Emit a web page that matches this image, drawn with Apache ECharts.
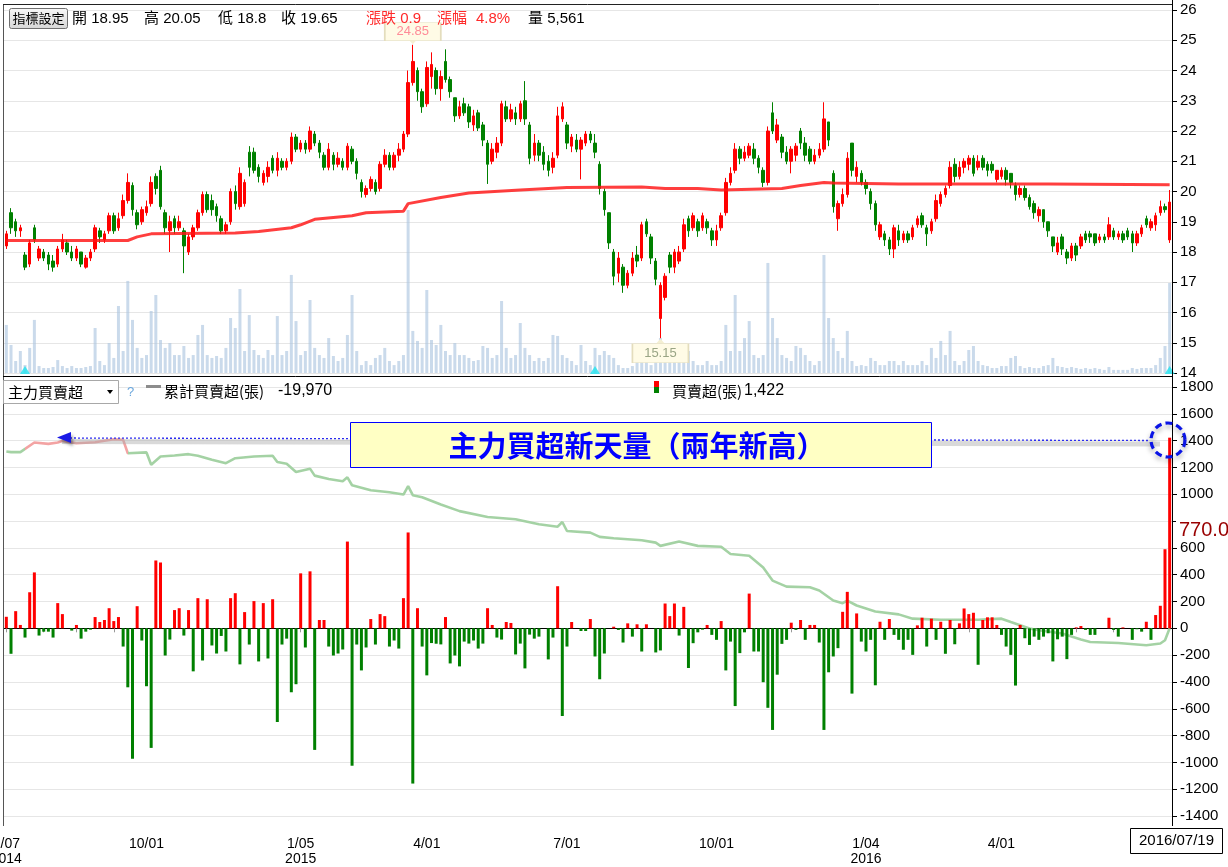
<!DOCTYPE html>
<html><head><meta charset="utf-8">
<script src="https://cdn.jsdelivr.net/npm/echarts@6/dist/echarts.min.js"></script>
<style>html,body{margin:0;padding:0;background:#fff;}#c{width:1228px;height:867px;}</style>
</head><body><div id="c"></div>
<script>
// ---------- data (each period = 2 trading days, 2014/07/07 - 2016/07/19) ----------
const openP = [
18.2,19.3,19.0,18.7,17.9,17.6,18.8,17.8,18.0,17.9,
17.7,17.6,18.1,18.3,18.0,17.8,18.0,17.5,17.8,18.1,
18.7,18.4,18.7,19.2,18.8,19.2,19.7,20.2,19.3,19.0,
19.3,19.6,20.5,20.7,19.3,18.7,19.1,18.8,18.7,18.0,
18.5,18.8,19.3,19.9,19.7,19.5,19.1,18.7,19.0,20.0,
19.5,19.6,21.3,21.3,20.8,20.3,20.5,21.1,20.7,21.0,
20.8,21.0,21.8,21.4,21.6,21.4,21.9,21.6,21.2,20.8,
21.2,20.9,21.0,20.8,21.4,21.0,20.3,19.9,20.1,20.3,
20.1,20.9,21.2,20.8,21.2,21.4,21.9,23.6,24.0,23.3,
22.9,23.8,24.0,23.4,24.3,23.7,23.1,22.5,22.9,22.8,
22.2,22.6,22.2,21.6,21.0,21.3,21.6,22.8,22.4,22.6,
22.4,23.0,22.2,21.2,21.6,21.3,21.0,20.8,21.2,22.4,
22.2,21.5,21.7,21.4,21.6,21.9,21.6,20.9,20.0,19.3,
18.0,17.3,17.5,16.9,17.3,17.9,17.8,19.0,18.5,17.7,
15.8,16.5,17.9,17.5,17.7,18.1,19.1,18.8,19.0,18.8,
19.0,18.7,18.4,18.8,19.3,20.3,20.7,21.4,21.1,21.2,
21.4,21.1,20.7,20.3,22.6,21.7,21.8,21.3,21.0,21.2,
22.0,21.6,21.4,21.0,21.2,21.4,22.3,20.6,19.1,19.6,
19.9,21.6,20.5,20.6,20.3,20.0,19.6,18.5,18.6,18.4,
18.1,18.7,18.4,18.6,18.5,18.9,19.2,18.8,18.7,19.1,
19.6,19.9,20.2,20.9,20.5,20.8,20.9,21.1,20.8,21.1,
20.9,20.9,20.4,20.5,20.7,20.6,20.2,19.9,20.1,19.8,
19.6,19.2,19.4,19.0,18.5,18.0,18.5,18.0,17.8,18.2,
18.2,18.6,18.6,18.6,18.4,18.5,18.5,18.7,18.5,18.6,
18.7,18.6,18.3,18.6,19.1,18.8,18.9,19.3,19.5,18.4];
const closeP = [
18.6,18.8,18.7,18.8,17.5,18.3,18.4,18.1,17.8,17.6,
17.5,18.1,18.4,18.0,17.8,18.1,17.6,17.8,18.0,18.8,
18.5,18.6,19.2,18.7,19.1,19.7,20.3,19.4,18.9,19.4,
19.5,20.3,20.1,19.5,18.8,19.0,18.8,19.0,18.2,18.5,
18.8,19.3,19.9,19.4,19.4,19.2,18.7,18.9,20.0,19.6,
20.6,20.3,20.8,20.7,20.5,20.6,20.8,20.7,21.1,20.8,
21.0,21.8,21.4,21.6,21.4,22.0,21.6,21.3,20.8,21.4,
20.9,21.1,20.8,21.5,21.0,20.6,20.0,20.1,20.4,20.0,
20.9,21.2,20.8,21.2,21.4,21.9,23.6,24.3,23.3,22.8,
24.1,24.2,23.4,23.8,23.7,23.3,22.5,22.8,22.6,22.3,
22.5,22.1,21.7,20.9,21.4,21.6,22.9,22.4,22.7,22.4,
22.9,22.4,21.1,21.6,21.2,20.9,20.7,21.1,22.5,22.8,
21.6,21.8,21.4,21.7,21.9,21.7,21.3,20.1,19.4,18.3,
17.2,17.8,16.9,17.3,17.8,17.7,18.9,18.6,17.8,17.1,
16.9,17.2,17.5,18.0,18.0,18.9,18.7,19.2,18.7,19.2,
18.8,18.4,18.7,19.2,20.3,20.6,21.4,21.1,21.3,21.5,
21.1,20.8,20.3,22.0,22.0,22.2,21.3,21.0,21.4,21.5,
21.6,21.2,21.0,21.2,21.4,22.4,21.7,19.5,19.6,19.9,
21.1,20.7,20.8,20.3,20.1,19.6,18.9,18.9,18.4,18.1,
18.8,18.4,18.6,18.4,18.8,19.1,18.9,18.6,19.0,19.7,
19.9,20.1,20.8,20.5,20.8,21.0,21.1,20.6,21.0,20.8,
20.7,20.7,20.7,20.7,20.4,20.3,19.9,20.1,19.8,19.5,
19.3,19.4,19.0,18.7,18.2,18.3,18.1,17.8,18.2,17.9,
18.5,18.4,18.5,18.3,18.5,18.4,18.9,18.5,18.6,18.4,
18.5,18.3,18.6,18.8,18.9,19.0,19.2,19.5,19.4,19.65];
const lowP = [
18.1,18.6,18.5,18.5,17.4,17.5,18.3,17.7,17.7,17.4,
17.35,17.5,18.0,17.9,17.7,17.7,17.5,17.45,17.7,18.0,
18.3,18.3,18.6,18.6,18.7,19.1,19.6,19.2,18.75,18.9,
19.2,19.5,19.9,19.4,18.6,18.0,18.6,18.7,17.3,17.9,
18.4,18.7,19.2,19.3,19.2,19.0,18.6,18.6,18.9,19.4,
19.4,19.5,20.5,20.6,20.3,20.2,20.3,20.6,20.5,20.7,
20.7,20.9,21.3,21.3,21.25,21.3,21.5,21.1,20.7,20.7,
20.7,20.8,20.7,20.7,20.9,20.4,19.8,19.8,20.0,19.9,
20.0,20.8,20.7,20.7,21.0,21.3,21.8,23.5,23.0,22.6,
22.8,23.4,23.2,23.0,23.6,23.1,22.3,22.4,22.5,22.1,
22.0,22.0,21.5,20.25,20.9,21.1,21.5,22.3,22.3,22.2,
22.3,22.2,20.9,21.0,21.0,20.7,20.5,20.6,21.1,22.3,
21.4,21.3,21.3,20.4,21.5,21.6,21.1,19.9,19.2,18.1,
16.9,17.0,16.65,16.8,17.2,17.5,17.7,18.5,17.6,16.9,
15.15,16.4,17.3,17.3,17.6,18.0,18.5,18.7,18.5,18.7,
18.6,18.2,18.2,18.7,19.2,20.2,20.6,20.9,21.0,21.1,
20.9,20.6,20.15,20.2,21.9,21.6,21.1,20.9,20.6,21.0,
21.4,21.0,20.9,20.9,21.1,21.3,21.5,19.3,18.7,19.5,
19.8,20.5,20.3,20.2,19.9,19.4,18.7,18.4,18.2,17.9,
17.8,18.2,18.3,18.3,18.4,18.8,18.8,18.2,18.6,19.0,
19.5,19.8,20.1,20.3,20.4,20.6,20.7,20.5,20.7,20.7,
20.5,20.6,20.3,20.4,20.2,20.1,19.7,19.8,19.7,19.4,
19.1,19.0,18.8,18.5,18.0,17.9,17.9,17.6,17.7,17.7,
18.1,18.3,18.3,18.2,18.3,18.3,18.4,18.4,18.4,18.3,
18.4,18.0,18.2,18.5,18.8,18.7,18.7,19.2,19.3,18.3];
const highP = [
18.7,19.45,19.1,18.9,18.0,18.4,18.9,18.2,18.1,18.0,
17.9,18.2,18.6,18.4,18.2,18.2,18.0,17.9,18.1,18.9,
18.8,18.7,19.3,19.3,19.3,19.9,20.6,20.3,19.4,19.5,
19.7,20.5,20.6,20.85,19.4,19.2,19.2,19.2,18.8,18.6,
18.9,19.4,20.0,20.0,19.9,19.6,19.2,19.0,20.1,20.2,
20.8,20.4,21.5,21.45,20.9,20.7,21.0,21.2,21.3,21.1,
21.1,21.95,21.9,21.7,21.7,22.15,22.0,21.7,21.3,21.6,
21.3,21.3,21.1,21.6,21.5,21.1,20.4,20.2,20.5,20.4,
21.0,21.4,21.3,21.3,21.6,22.0,24.0,24.85,24.1,23.4,
24.3,24.6,24.1,24.0,24.7,23.8,23.1,23.0,23.1,22.9,
22.7,22.7,22.3,21.7,21.6,21.8,23.0,23.0,22.9,22.8,
23.0,23.65,22.3,21.9,21.7,21.5,21.2,21.3,22.8,22.95,
22.3,21.9,21.9,21.8,22.0,22.0,21.9,21.0,20.1,19.3,
18.1,18.0,17.6,17.4,18.0,18.2,19.0,19.1,18.6,17.8,
17.0,17.3,18.0,18.1,18.2,19.1,19.2,19.3,19.1,19.3,
19.1,18.8,18.9,19.3,20.45,20.8,21.6,21.5,21.5,21.6,
21.6,21.2,20.8,22.15,22.95,22.4,21.9,21.5,21.5,21.6,
22.1,21.8,21.5,21.4,21.6,22.95,22.3,20.7,19.7,20.1,
21.3,21.6,21.0,20.7,20.4,20.1,19.7,19.0,18.7,18.5,
18.9,18.9,18.7,18.7,18.9,19.2,19.3,18.9,19.1,19.9,
20.0,20.2,21.0,21.1,21.0,21.1,21.2,21.2,21.2,21.2,
21.0,21.0,20.7,20.8,20.8,20.6,20.3,20.2,20.2,19.9,
19.7,19.5,19.4,19.0,18.5,18.5,18.6,18.1,18.3,18.3,
18.6,18.7,18.7,18.6,18.6,18.6,19.15,18.8,18.7,18.7,
18.8,18.7,18.7,18.9,19.2,19.1,19.3,19.7,19.6,20.05];
const volume = [
2970,1730,740,1360,490,1550,3280,430,310,310,
370,800,430,310,430,310,310,370,430,2780,
740,490,1850,930,4140,1360,5690,3280,1550,930,
1110,3830,4820,2040,1550,1850,1110,1110,1670,930,
1110,2350,2970,1110,930,1050,930,1550,3400,2780,
5190,1360,3580,1420,1110,930,1420,1110,3520,1110,
1360,6060,3210,1110,1360,4510,1550,1110,930,2160,
1050,740,930,2350,4820,1360,490,740,490,930,
1110,1550,740,490,740,1110,10070,2600,1980,1550,
5130,2040,1730,2970,1360,1110,1850,1110,1110,930,
740,800,1670,1550,930,1110,4450,1550,930,1110,
3090,1550,1110,740,930,740,930,2350,2290,1110,
930,740,490,1730,740,490,1550,1110,1360,1110,
930,490,310,310,430,740,930,740,490,930,
2160,1550,930,740,740,1110,1360,740,490,490,
740,490,490,740,2970,1360,4820,1360,2160,3210,
1110,930,1110,6800,3400,2160,1110,930,740,1670,
1550,1110,740,490,740,7290,3400,2160,1360,930,
2600,740,430,490,430,930,740,490,490,740,
740,490,740,490,490,490,740,490,1550,930,
1980,1110,2600,740,490,740,1420,1670,740,490,
430,310,310,430,430,930,1050,430,310,370,
310,310,430,490,930,430,370,310,370,310,
250,310,250,310,250,190,370,190,190,190,
190,310,250,310,310,310,490,930,1670,5561];
// long moving average: [period index, price]
const maLine = [[0,18.38],[26,18.38],[28,18.5],[31,18.6],[49,18.63],[54,18.68],[61,18.8],[63,18.9],[66,19.08],[74,19.2],[77,19.3],[85,19.35],[86,19.6],[93,19.8],[99,19.95],[110,20.05],[120,20.13],[136,20.15],[141,20.1],[148,20.1],[153,20.05],[166,20.1],[170,20.2],[175,20.3],[177,20.28],[191,20.25],[223,20.25],[249,20.22]];
// 主力買賣超 (張)
const netBuy = [
86,-190,128,25,-69,269,417,-54,-25,-25,
-69,188,106,0,-17,25,-77,-25,-10,84,
47,62,150,54,84,-136,-440,-973,165,-91,
-432,-892,506,491,-203,-84,136,150,-54,136,
-321,225,-240,217,-128,-188,-57,-173,225,262,
-269,121,-121,203,-247,188,-225,217,-699,-121,
-77,-477,-417,410,-143,425,-907,62,62,-136,
-203,-188,-158,647,-1025,-121,-314,-143,69,-121,
106,91,-136,-91,-151,225,715,-1158,150,-136,
-351,-110,-115,-120,84,-262,-203,-284,-99,-114,
-91,-151,-114,150,25,-69,-84,47,40,-195,
-114,-299,-47,-77,-62,0,-232,-69,314,-654,
-136,47,0,-20,-20,69,-210,-380,-188,0,
12,-12,-106,37,-62,30,-173,30,0,-180,
-165,185,91,185,-54,160,-296,-111,-30,-10,
25,-49,-86,54,-314,-99,-580,-185,-30,259,
-173,-173,-402,-593,-758,-346,-116,-86,42,-12,
62,-86,25,25,-106,-758,-328,-210,-148,123,
272,-487,111,-99,-173,-86,-425,49,-86,69,
-49,-86,-160,-86,-198,22,79,-136,72,-86,
49,-190,62,-119,37,148,106,116,-272,62,
82,82,25,-49,-136,-198,-427,25,-74,-124,
-62,-86,-62,-37,-247,-82,-62,-230,-49,7,
17,-12,-49,-49,0,0,79,-12,-62,7,
0,-86,-7,-25,49,-86,99,168,590,1422];
// 累計買賣超 (drawn on the panel scale): [period index, value]
const cumLine = [[0,1319],[1,1314],[3,1314],[6,1386],[9,1376],[11,1386],[12,1398],[15,1380],[19,1388],[23,1410],[25,1406],[26,1306],[30,1312],[31,1220],[33,1282],[36,1289],[39,1299],[41,1287],[44,1257],[47,1232],[49,1269],[53,1282],[57,1287],[58,1240],[60,1228],[62,1166],[65,1191],[66,1139],[69,1114],[72,1097],[73,1126],[74,1067],[78,1030],[82,1015],[85,998],[86,1060],[87,993],[89,978],[93,924],[97,874],[103,830],[109,813],[114,776],[118,758],[119,793],[120,726],[125,714],[127,682],[130,672],[136,657],[139,639],[140,615],[144,647],[148,615],[153,608],[155,554],[159,541],[162,454],[164,356],[167,311],[172,306],[174,282],[177,207],[179,187],[180,207],[182,170],[186,126],[191,104],[194,72],[200,64],[208,64],[213,72],[215,47],[219,-2],[221,-15],[226,-39],[230,-84],[232,-102],[238,-109],[244,-126],[247,-113],[248,-89],[249,0]];
const xLabelIdx  = [0, 30, 63, 90, 120, 152, 184, 213];
const xLabelText = ['7/07\n2014','10/01','1/05\n2015','4/01','7/01','10/01','1/04\n2016','4/01'];
const xTickIdx = [0,8,15,23,30,38,46,54,63,70,77,84,90,98,105,113,120,128,136,144,152,160,168,176,184,191,199,206,213,221,229,237,245];
const markerIdx = [4, 126, 249];
const headerItems = [['開 18.95',72,'#000'],['高 20.05',144,'#000'],['低 18.8',218,'#000'],['收 19.65',281,'#000'],['漲跌 0.9',366,'#ff2a2a'],['漲幅',437,'#ff2a2a'],['4.8%',476,'#ff2a2a'],['量 5,561',528,'#000']];
const cumLegend = ['累計買賣超(張)', '-19,970'];
const netLegend = ['買賣超(張)', '1,422'];
const lastDate = '2016/07/19';
const lastMark = '770.0';
const noteText = '主力買超新天量（兩年新高）';

// ---------- chart ----------
const FONT = '"Liberation Sans","Noto Sans CJK TC",sans-serif';
const CJK = '"Noto Sans CJK TC","Liberation Sans",sans-serif';
const cats = openP.map((_, i) => String(i));
const candle = openP.map((o, i) => [o, closeP[i], lowP[i], highP[i]]);
const labelMap = new Map(xLabelIdx.map((k, j) => [k, xLabelText[j]]));
const tickSet = new Set(xTickIdx);

function txt(x, y, text, opt) {
  return {type:'text', x:x, y:y, z:80, style:Object.assign({text:text, fill:'#000', fontSize:15, fontFamily:FONT, align:'left', verticalAlign:'middle'}, opt || {})};
}
function ln(x1, y1, x2, y2, stroke, lw, extra) {
  return {type:'line', z:55, shape:{x1:x1, y1:y1, x2:x2, y2:y2}, style:Object.assign({stroke:stroke, lineWidth:lw || 1}, extra || {})};
}

const hiddenX = (g) => ({type:'category', gridIndex:g, data:cats, boundaryGap:true,
  axisLine:{show:false}, axisTick:{show:false}, axisLabel:{show:false}, splitLine:{show:false}});

const graphics = [
  ln(3.5, 4, 3.5, 826, '#555', 1),
  ln(3, 4.5, 1172, 4.5, '#222', 1),
  ln(3, 376.5, 1172, 376.5, '#000', 1),
  ln(1172.5, 0, 1172.5, 826, '#000', 1),
  {type:'rect', z:58, shape:{x:9.5, y:8.5, width:58, height:20, r:2},
   style:{fill:new echarts.graphic.LinearGradient(0,0,0,1,[{offset:0,color:'#f8f8f8'},{offset:1,color:'#d6d6d6'}]), stroke:'#707070', lineWidth:1}},
  txt(38.5, 18.5, '指標設定', {fontSize:13, fontFamily:CJK, align:'center'}),
];
headerItems.forEach(h => graphics.push(txt(h[1], 18.5, h[0], {fill:h[2], fontSize:15})));
graphics.push(
  {type:'rect', z:58, shape:{x:3.5, y:380.5, width:115, height:23}, style:{fill:'#fff', stroke:'#a8a8a8', lineWidth:1}},
  ln(101.5, 381, 101.5, 403, '#c8c8c8', 1),
  {type:'polygon', z:60, shape:{points:[[107,390],[113,390],[110,394]]}, style:{fill:'#000'}},
  txt(8, 392, '主力買賣超', {fontSize:15, fontFamily:CJK}),
  txt(127, 392, '?', {fontSize:13, fill:'#6aa6dc'}),
  ln(146, 386.5, 161, 386.5, '#8c8c8c', 3),
  txt(164, 391, cumLegend[0], {fontSize:15, fontFamily:CJK}),
  txt(278, 391, cumLegend[1], {fontSize:16}),
  {type:'rect', z:60, shape:{x:654, y:381, width:5, height:6}, style:{fill:'#ff0000'}},
  {type:'rect', z:60, shape:{x:654, y:387, width:5, height:6}, style:{fill:'#008000'}},
  txt(672, 391, netLegend[0], {fontSize:15, fontFamily:CJK}),
  txt(744, 391, netLegend[1], {fontSize:16})
);
graphics.push(
  ln(62, 441.5, 1160, 444, 'rgba(170,170,170,0.45)', 5),
  ln(66, 438, 1150, 440.5, '#2a2af0', 1.3, {lineDash:[2,2]}),
  {type:'polygon', z:61, shape:{points:[[57,437.5],[71,432],[71,443]]},
   style:{fill:'#1a1ae6', shadowColor:'rgba(0,0,0,0.35)', shadowBlur:3, shadowOffsetX:2, shadowOffsetY:3}},
  {type:'rect', z:62, shape:{x:350.5, y:422.5, width:581, height:45}, style:{fill:'#ffffc4', stroke:'#0000ff', lineWidth:1}},
  txt(637, 445.5, noteText, {fontSize:29, fontWeight:'bold', fontFamily:CJK, fill:'#0000ff', align:'center'}),
  {type:'circle', z:63, shape:{cx:1168, cy:440, r:17},
   style:{fill:'none', stroke:'#0a14e6', lineWidth:3.2, lineDash:[7,4], shadowColor:'rgba(0,0,0,0.35)', shadowBlur:5, shadowOffsetY:3}},
  {type:'rect', z:62, shape:{x:1176, y:519, width:52, height:22}, style:{fill:'#fff'}},
  txt(1179, 530, lastMark, {fontSize:20, fill:'#990000'}),
  {type:'rect', z:62, shape:{x:1130.5, y:828.5, width:92, height:25}, style:{fill:'#fff', stroke:'#000', lineWidth:1}},
  txt(1176.5, 841, lastDate, {fontSize:15, align:'center'})
);

const option = {
  animation: false,
  backgroundColor: '#fff',
  grid: [
    {left:4, right:56, top:10, height:363, outerBoundsMode:'none'},
    {left:4, right:56, top:10, height:363, outerBoundsMode:'none'},
    {left:4, right:56, top:387, height:429, outerBoundsMode:'none'}
  ],
  xAxis: [
    hiddenX(0), hiddenX(1),
    {type:'category', gridIndex:2, data:cats, boundaryGap:true, offset:10,
     axisLine:{show:true, lineStyle:{color:'#000', width:1}},
     axisTick:{show:true, alignWithLabel:true, length:4, interval:(i) => tickSet.has(i), lineStyle:{color:'#999'}},
     axisLabel:{interval:(i) => labelMap.has(i), formatter:(v, i) => labelMap.get(i) || '',
                color:'#000', fontSize:14, fontFamily:FONT, margin:11, lineHeight:15},
     splitLine:{show:false}}
  ],
  yAxis: [
    {type:'value', gridIndex:0, position:'right', min:14, max:26, interval:1,
     axisLine:{show:true, lineStyle:{color:'#000'}}, axisTick:{show:true, length:5, lineStyle:{color:'#000'}},
     axisLabel:{color:'#000', fontSize:15, fontFamily:FONT, margin:8},
     splitLine:{show:true, lineStyle:{color:'#e6e6e6', width:1}}},
    {type:'value', gridIndex:1, min:0, max:22430, show:false, splitLine:{show:false}},
    {type:'value', gridIndex:2, position:'right', min:-1400, max:1800, interval:200,
     axisLine:{show:true, lineStyle:{color:'#000'}}, axisTick:{show:true, length:5, lineStyle:{color:'#000'}},
     axisLabel:{color:'#000', fontSize:15, fontFamily:FONT, margin:8, formatter:(v) => v === 800 ? '' : String(v)},
     splitLine:{show:true, lineStyle:{color:'#e6e6e6', width:1}}}
  ],
  visualMap: [{
    show:false, type:'piecewise', seriesIndex:4, dimension:0,
    pieces:[{lt:3.5, color:'#a4d2a4'}, {gte:3.5, lt:26, color:'#f3a3a3'}, {gte:26, color:'#a4d2a4'}]
  }],
  series: [
    {name:'vol', type:'bar', xAxisIndex:1, yAxisIndex:1, data:volume, barWidth:3, z:1,
     itemStyle:{color:'rgba(170,196,222,0.62)'}, silent:true},
    {name:'k', type:'candlestick', xAxisIndex:0, yAxisIndex:0, data:candle, barWidth:3, z:3,
     itemStyle:{color:'#ff0000', color0:'#008000', borderColor:'#ff0000', borderColor0:'#008000', borderWidth:1},
     markPoint:{
       z:10,
       data:[
         {type:'max', valueDim:'highest', symbol:'triangle', symbolSize:[9,5], symbolRotate:180, symbolOffset:[0,-3],
          itemStyle:{color:'#f4efd2'}, label:{show:false}},
         {type:'max', valueDim:'highest', symbol:'rect', symbolSize:[56,18], symbolOffset:[0,-13],
          itemStyle:{color:'#fffbe6', borderColor:'#e4ddbd', borderWidth:1},
          label:{show:true, position:'inside', color:'#ff8c98', fontSize:13, fontFamily:FONT, formatter:(p) => Number(p.value).toFixed(2)}},
         {type:'min', valueDim:'lowest', symbol:'triangle', symbolSize:[9,5], symbolOffset:[0,3],
          itemStyle:{color:'#f4efd2'}, label:{show:false}},
         {type:'min', valueDim:'lowest', symbol:'rect', symbolSize:[56,19], symbolOffset:[0,15],
          itemStyle:{color:'#fffbe6', borderColor:'#e4ddbd', borderWidth:1},
          label:{show:true, position:'inside', color:'#9aa585', fontSize:13, fontFamily:FONT, formatter:(p) => Number(p.value).toFixed(2)}}
       ]
     }},
    {name:'ma', type:'line', xAxisIndex:0, yAxisIndex:0, data:maLine, showSymbol:false, symbol:'none', z:4,
     lineStyle:{color:'rgba(255,20,20,0.82)', width:3}},
    {name:'marker', type:'scatter', xAxisIndex:1, yAxisIndex:1, data:markerIdx.map(i => [i, 0]), z:5,
     symbol:'triangle', symbolSize:[10,8], symbolOffset:[0,-3], itemStyle:{color:'#1fe3f0'}, silent:true},
    {name:'cum', type:'line', xAxisIndex:2, yAxisIndex:2, data:cumLine, showSymbol:false, symbol:'none', z:2,
     lineStyle:{width:2.6}},
    {name:'net', type:'bar', xAxisIndex:2, yAxisIndex:2, data:netBuy, barWidth:3, z:3,
     itemStyle:{color:(p) => p.value >= 0 ? '#ff0000' : '#008000'}}
  ],
  graphic: graphics
};

const chart = echarts.init(document.getElementById('c'), null, {renderer:'canvas'});
chart.setOption(option);
</script>
</body></html>
